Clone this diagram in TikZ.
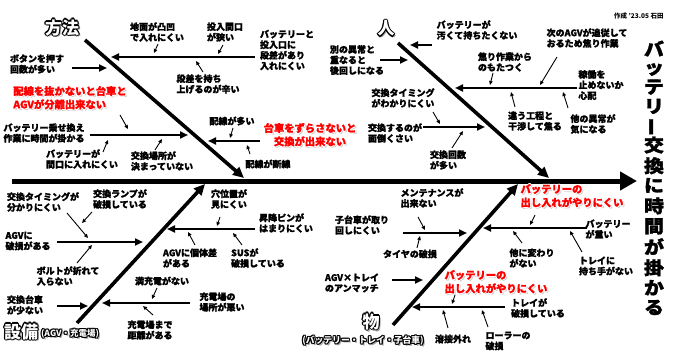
\documentclass[tikz,border=0pt]{standalone}
\usepackage{fontspec}
\setmainfont{Noto Sans CJK JP}
\newfontfamily\heavy{Noto Sans CJK JP}[FakeBold=1.5]
\usepackage{graphicx}
\usetikzlibrary{arrows.meta}
\newlength\olw
\newsavebox\oltbox
\newcommand\ocopy[2]{\rlap{\hspace*{#1}\raisebox{#2}{\copy\oltbox}}}
\newcommand\olt[5]{\setlength\olw{#1}\setbox\oltbox\hbox{#5}\hspace*{\olw}{\color{#2}\ocopy{1.6\olw}{-1.6\olw}}{\color{#3}\ocopy{\olw}{0pt}\ocopy{-\olw}{0pt}\ocopy{0pt}{\olw}\ocopy{0pt}{-\olw}\ocopy{0.7\olw}{0.7\olw}\ocopy{-0.7\olw}{0.7\olw}\ocopy{0.7\olw}{-0.7\olw}\ocopy{-0.7\olw}{-0.7\olw}}{\color{#4}\copy\oltbox}\hspace*{\olw}}
\newcommand\redt[1]{\olt{0.9pt}{gray!40}{white}{red}{#1}}
\newcommand\catt[1]{\olt{1.2pt}{gray!70}{black}{white}{#1}}
\tikzset{
 txt/.style={font=\heavy\bfseries\fontsize{9}{10.6}\selectfont, align=left, inner sep=0pt},
 rtxt/.style={font=\heavy\bfseries\fontsize{10.3}{12}\selectfont, align=left, inner sep=0pt},
 cat/.style={font=\bfseries\fontsize{17}{17}\selectfont, inner sep=0pt},
 catsm/.style={font=\bfseries\fontsize{8.5}{9}\selectfont, inner sep=0pt},
 spine/.style={line width=5pt, -{Triangle[length=17pt,width=18pt]}},
 bone/.style={line width=3.6pt, -{Triangle[length=11pt,width=10pt]}},
 sub/.style={line width=2.3pt, -{Triangle[length=8pt,width=7pt]}},
 tiny/.style={line width=0.9pt, -{Triangle[length=4pt,width=3.5pt]}},
}
\begin{document}
\begin{tikzpicture}[x=1pt,y=-1pt]
\fill[white] (0,0) rectangle (673,361);
\useasboundingbox (0,0) rectangle (673,361);

% title and author
\node[font=\heavy\bfseries\fontsize{17.8}{18.2}\selectfont, inner sep=0pt] (ttl) at (654,180)
 {\scalebox{1.12}[1]{\begin{tabular}{@{}c@{}}バ\\ッ\\テ\\リ\\\smash{\rotatebox[origin=c]{90}{ー}}\\交\\換\\に\\時\\間\\が\\掛\\か\\る\end{tabular}}};
\node[font=\bfseries\fontsize{6.5}{7}\selectfont, anchor=west, inner sep=0pt] (auth) at (614,16) {作成 ’23.05 石田};

% spine and bones
\coordinate (sps) at (12,181); \coordinate (spe) at (637,181);
\draw[spine] (sps) -- (spe);
\coordinate (b1s) at (85,40);  \coordinate (b1e) at (244,178);
\coordinate (b2s) at (398,43); \coordinate (b2e) at (549,178);
\coordinate (b3s) at (77,323); \coordinate (b3e) at (205,184);
\coordinate (b4s) at (393,325); \coordinate (b4e) at (518,184);
\draw[bone] (b1s) -- (b1e);
\draw[bone] (b2s) -- (b2e);
\draw[bone] (b3s) -- (b3e);
\draw[bone] (b4s) -- (b4e);

% category labels
\node[cat] (hoho) at (62,28) {\catt{方法}};
\node[cat] (hito) at (386,29) {\catt{人}};
\node[cat] (setsubi) at (21,332) {\catt{設備}};
\node[catsm] (setsubi2) at (70,334) {\catt{(AGV・充電場)}};
\node[cat] (mono) at (371,322) {\catt{物}};
\node[catsm, font=\bfseries\fontsize{8.8}{9}\selectfont] (mono2) at (363,341) {\catt{(バッテリー・トレイ・子台車)}};

% sub bones
\foreach \n/\a/\b in {
 L1/{255,57}/{111,57}, L2/{72,68}/{107,68}, L4/{90,135}/{188,135}, L5/{260,141}/{208,141},
 L6/{432,45}/{410,45}, L7/{380,60}/{408,60}, L8/{577,88}/{455,88}, L9/{423,127}/{485,127},
 L10/{57,242}/{143,242}, L12/{57,306}/{88,306}, L11/{190,303}/{102,303}, L13/{255,229}/{167,229},
 L14/{403,233}/{467,233}, L15/{392,280}/{423,280}, L16/{587,228}/{483,228}, L17/{505,307}/{412,307}}
{\coordinate (\n s) at (\a); \coordinate (\n e) at (\b); \draw[sub] (\n s) -- (\n e);}

% small arrows
\foreach \n/\a/\b in {
 jimen/{158,44}/{154,53}, maguchi/{223,45}/{218,54}, mochiage/{203,72}/{196,61},
 redA/{120,115}/{128,129}, maguchiB/{103,152}/{108,140}, basho/{155,150}/{162,139},
 haisen/{233,128}/{230,138}, dansen/{250,154}/{247,145},
 aseri/{493,73}/{490,85}, tsuiju/{557,57}/{540,85}, kansho/{515,107}/{511,92},
 hoka/{568,108}/{563,92}, timing/{433,112}/{440,124}, kaisu/{452,148}/{463,131},
 timingB/{67,213}/{88,238}, lamp/{92,212}/{82,223}, bolt/{77,263}/{92,245},
 mangen/{157,288}/{152,299}, kyori/{153,315}/{143,306}, ana/{220,217}/{217,226},
 kotai/{195,245}/{188,232}, sus/{242,245}/{233,233},
 maint/{418,217}/{425,230}, tire/{417,248}/{420,236}, redC/{535,215}/{530,225},
 kawari/{522,243}/{513,231}, mochite/{582,252}/{570,231}, redD/{455,295}/{452,304},
 yosetsu/{448,328}/{443,310}, roller/{488,327}/{482,310}}
{\coordinate (\n s) at (\a); \coordinate (\n e) at (\b); \draw[tiny] (\n s) -- (\n e);}

% texts: method
\node[txt] (t_jimen) at (157,32) {地面が凸凹\\で入れにくい};
\node[txt] (t_maguchi) at (225,32) {投入間口\\が狭い};
\node[txt] (t_dansa) at (287,50) {バッテリーと\\投入口に\\段差があり\\入れにくい};
\node[txt] (t_mochiage) at (208,84) {段差を持ち\\上げるのが辛い};
\node[txt] (t_button) at (37,64) {ボタンを押す\\回数が多い};
\node[rtxt] (t_red1) at (70,98) {\redt{配線を抜かないと台車と}\\\redt{AGVが分離出来ない}};
\node[txt] (t_norikae) at (44,133) {バッテリー乗せ換え\\作業に時間が掛かる};
\node[txt] (t_maguchi2) at (82,159) {バッテリーが\\間口に入れにくい};
\node[txt] (t_basho) at (162,161) {交換場所が\\決まっていない};
\node[txt] (t_haisen) at (232,121) {配線が多い};
\node[rtxt, align=center] (t_red2) at (310,135) {\redt{台車をずらさないと}\\\redt{交換が出来ない}};
\node[txt] (t_dansen) at (268,164) {配線が断線};

% texts: people
\node[txt] (t_kitanai) at (477,30) {バッテリーが\\汚くて持ちたくない};
\node[txt] (t_atomawashi) at (357,60) {別の異常と\\重なると\\後回しになる};
\node[txt] (t_aseri) at (505,62) {焦り作業から\\のもたつく};
\node[txt] (t_tsuiju) at (587,38) {次のAGVが追従して\\おるため焦り作業};
\node[txt] (t_kado) at (601,85) {稼働を\\止めないか\\心配};
\node[txt] (t_kansho) at (535,121) {違う工程と\\干渉して焦る};
\node[txt] (t_hoka) at (593,124) {他の異常が\\気になる};
\node[txt] (t_timing) at (403,98) {交換タイミング\\がわかりにくい};
\node[txt] (t_mendo) at (395,133) {交換するのが\\面倒くさい};
\node[txt] (t_kaisu) at (448,160) {交換回数\\が多い};

% texts: equipment
\node[txt] (t_timing2) at (43,202) {交換タイミングが\\分かりにくい};
\node[txt] (t_lamp) at (120,199) {交換ランプが\\破損している};
\node[txt] (t_agvhason) at (28,241) {AGVに\\破損がある};
\node[txt] (t_bolt) at (68,276) {ボルトが折れて\\入らない};
\node[txt] (t_daisha) at (25,305) {交換台車\\が少ない};
\node[txt] (t_mangen) at (162,281) {満充電がない};
\node[txt] (t_kyori) at (150,330) {充電場まで\\距離がある};
\node[txt] (t_basho2) at (222,302) {充電場の\\場所が悪い};
\node[txt] (t_ana) at (229,199) {穴位置が\\見にくい};
\node[txt] (t_pin) at (286,223) {昇降ピンが\\はまりにくい};
\node[txt] (t_kotai) at (190,258) {AGVに個体差\\がある};
\node[txt] (t_sus) at (258,258) {SUSが\\破損している};

% texts: things
\node[txt] (t_maint) at (432,198) {メンテナンスが\\出来ない};
\node[txt] (t_kodaisha) at (362,225) {子台車が取り\\回しにくい};
\node[txt] (t_tire) at (410,254) {タイヤの破損};
\node[txt] (t_mismatch) at (352,283) {AGV×トレイ\\のアンマッチ};
\node[rtxt] (t_red3) at (572,196) {\redt{バッテリーの}\\\redt{出し入れがやりにくい}};
\node[txt] (t_omoi) at (608,229) {バッテリー\\が重い};
\node[txt] (t_kawari) at (532,258) {他に変わり\\がない};
\node[txt] (t_mochite) at (606,266) {トレイに\\持ち手がない};
\node[rtxt] (t_red4) at (496,282) {\redt{バッテリーの}\\\redt{出し入れがやりにくい}};
\node[txt] (t_tray) at (538,308) {トレイが\\破損している};
\node[txt] (t_yosetsu) at (453,339) {溶接外れ};
\node[txt] (t_roller) at (508,341) {ローラーの\\破損};
\end{tikzpicture}
\end{document}
